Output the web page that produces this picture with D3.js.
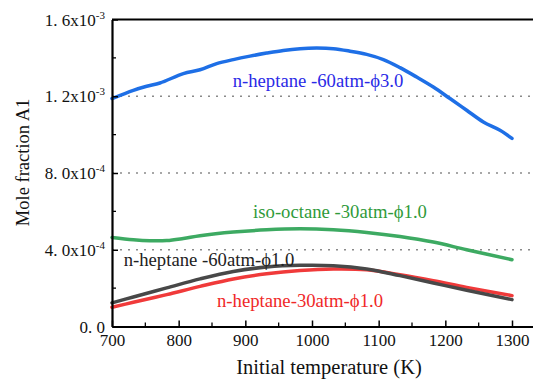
<!DOCTYPE html>
<html>
<head>
<meta charset="utf-8">
<script src="https://cdn.jsdelivr.net/npm/d3@7"></script>
<style>
  html, body { margin: 0; padding: 0; background: #fff; }
  #chart text { font-family: "Times New Roman", "Liberation Serif", Tinos, serif !important; }
</style>
</head>
<body>
<svg id="chart" width="533" height="379" font-family="Times New Roman"></svg>
<script>
// Initial temperature (K) and the A1 mole fraction for each case
const nHeptane60phi3T = [700, 732, 752, 772, 807, 832, 857, 882, 907, 932, 957, 982, 1007, 1032, 1057, 1082, 1107, 1132, 1157, 1182, 1207, 1232, 1257, 1282, 1300];
const nHeptane60phi3 = [1.188e-3, 1.231e-3, 1.252e-3, 1.269e-3, 1.318e-3, 1.338e-3, 1.370e-3, 1.391e-3, 1.409e-3, 1.425e-3, 1.439e-3, 1.448e-3, 1.451e-3, 1.448e-3, 1.435e-3, 1.418e-3, 1.391e-3, 1.349e-3, 1.300e-3, 1.248e-3, 1.188e-3, 1.127e-3, 1.066e-3, 1.023e-3, 0.980e-3];

const isoOctane30T = [700, 732, 757, 782, 807, 832, 882, 932, 982, 1032, 1082, 1132, 1182, 1232, 1300];
const isoOctane30 = [0.464e-3, 0.452e-3, 0.447e-3, 0.448e-3, 0.459e-3, 0.473e-3, 0.492e-3, 0.504e-3, 0.509e-3, 0.504e-3, 0.490e-3, 0.469e-3, 0.440e-3, 0.400e-3, 0.348e-3];

const nHeptaneT = [700, 732, 782, 832, 882, 932, 982, 1032, 1082, 1132, 1182, 1232, 1300];
const nHeptane60phi1 = [0.123e-3, 0.154e-3, 0.201e-3, 0.248e-3, 0.287e-3, 0.310e-3, 0.319e-3, 0.317e-3, 0.300e-3, 0.265e-3, 0.227e-3, 0.189e-3, 0.140e-3];
const nHeptane30phi1 = [0.100e-3, 0.126e-3, 0.166e-3, 0.209e-3, 0.248e-3, 0.275e-3, 0.292e-3, 0.300e-3, 0.296e-3, 0.270e-3, 0.239e-3, 0.204e-3, 0.161e-3];

const xTicks = [700, 800, 900, 1000, 1100, 1200, 1300];
const xMinorTicks = [750, 850, 950, 1050, 1150, 1250];
const yTicks = [0, 4e-4, 8e-4, 1.2e-3, 1.6e-3];
const yMinorTicks = [2e-4, 6e-4, 1.0e-3, 1.4e-3];
const yTickLabels = [["0. 0", null], ["4. 0x10", "-4"], ["8. 0x10", "-4"], ["1. 2x10", "-3"], ["1. 6x10", "-3"]];
const gridValues = [4e-4, 8e-4, 1.2e-3];

const series = [
  { name: "n-heptane -60atm-\u03d53.0", T: nHeptane60phi3T, v: nHeptane60phi3, color: "#1e6fe6", text: "#2a2ae6", lx: 318, ly: 87 },
  { name: "iso-octane -30atm-\u03d51.0", T: isoOctane30T, v: isoOctane30, color: "#3daa62", text: "#2f9a3a", lx: 340, ly: 218 },
  { name: "n-heptane -60atm-\u03d51.0", T: nHeptaneT, v: nHeptane60phi1, color: "#484848", text: "#222222", lx: 209, ly: 266 },
  { name: "n-heptane-30atm-\u03d51.0", T: nHeptaneT, v: nHeptane30phi1, color: "#f03a3a", text: "#f02828", lx: 300, ly: 307 }
];

const svg = d3.select("#chart");
const x = d3.scaleLinear().domain([700, 1331.5]).range([112, 533]);
const y = d3.scaleLinear().domain([0, 1.6e-3]).range([326.5, 19.5]);

// dotted reference lines
svg.append("g").selectAll("line").data(gridValues).join("line")
  .attr("x1", x(700)).attr("x2", x(1331.5))
  .attr("y1", d => y(d)).attr("y2", d => y(d))
  .attr("stroke", "#8a8a8a").attr("stroke-width", 1.6)
  .attr("stroke-dasharray", "2,6");

// curves
const line = d3.line().x(d => x(d[0])).y(d => y(d[1])).curve(d3.curveCatmullRom.alpha(0.5));
const order = [3, 2, 1, 0];
svg.append("g").selectAll("path").data(order.map(i => series[i])).join("path")
  .attr("d", s => line(s.T.map((t, i) => [t, s.v[i]])))
  .attr("fill", "none").attr("stroke", s => s.color)
  .attr("stroke-width", 3.5).attr("stroke-linejoin", "round").attr("stroke-linecap", "round");

// curve labels
svg.append("g").selectAll("text").data(series).join("text")
  .attr("x", s => s.lx).attr("y", s => s.ly)
  .attr("text-anchor", "middle").attr("font-size", 18.7)
  .attr("fill", s => s.text).text(s => s.name);

// x axis
const xAxis = d3.axisBottom(x).tickValues(xTicks).tickSize(-6).tickSizeOuter(0).tickFormat(d3.format("d"));
const gx = svg.append("g").attr("transform", `translate(0,${y(0)})`).call(xAxis);
gx.attr("font-family", null);
gx.select(".domain").attr("stroke-width", 2.2);
gx.selectAll(".tick line").attr("stroke-width", 1.5);
gx.selectAll(".tick text").attr("font-size", 17).attr("fill", "#111").attr("dy", "0.95em");
svg.append("g").selectAll("line").data(xMinorTicks).join("line")
  .attr("x1", d => x(d)).attr("x2", d => x(d))
  .attr("y1", y(0)).attr("y2", y(0) - 4)
  .attr("stroke", "#000").attr("stroke-width", 1.3);

// y axis
const yAxis = d3.axisLeft(y).tickValues(yTicks).tickSize(-6).tickSizeOuter(0).tickFormat("");
const gy = svg.append("g").attr("transform", `translate(${x(700)},0)`).call(yAxis);
gy.select(".domain").attr("stroke-width", 2.2);
gy.selectAll(".tick line").attr("stroke-width", 1.5);
svg.append("g").selectAll("line").data(yMinorTicks).join("line")
  .attr("x1", x(700)).attr("x2", x(700) + 4)
  .attr("y1", d => y(d)).attr("y2", d => y(d))
  .attr("stroke", "#000").attr("stroke-width", 1.3);

// y tick labels with powers of ten
const yl = svg.append("g").selectAll("text").data(yTicks).join("text")
  .attr("x", x(700) - 7).attr("y", d => y(d) + 6)
  .attr("text-anchor", "end").attr("font-size", 17).attr("fill", "#111");
yl.each(function(d, i) {
  const [base, exp] = yTickLabels[i];
  const t = d3.select(this);
  t.append("tspan").text(base);
  if (exp) t.append("tspan").attr("dy", -7).attr("font-size", 11).text(exp);
});

// top frame line
svg.append("line").attr("x1", x(700)).attr("x2", x(1331.5))
  .attr("y1", y(1.6e-3)).attr("y2", y(1.6e-3))
  .attr("stroke", "#000").attr("stroke-width", 2.2);

// axis titles
svg.append("text").attr("x", 329).attr("y", 374)
  .attr("text-anchor", "middle").attr("font-size", 20.5).attr("fill", "#111")
  .text("Initial temperature (K)");
svg.append("text").attr("transform", `translate(29,${y(0.855e-3)}) rotate(-90)`)
  .attr("text-anchor", "middle").attr("font-size", 18.5).attr("fill", "#111")
  .text("Mole fraction A1");
</script>
</body>
</html>
